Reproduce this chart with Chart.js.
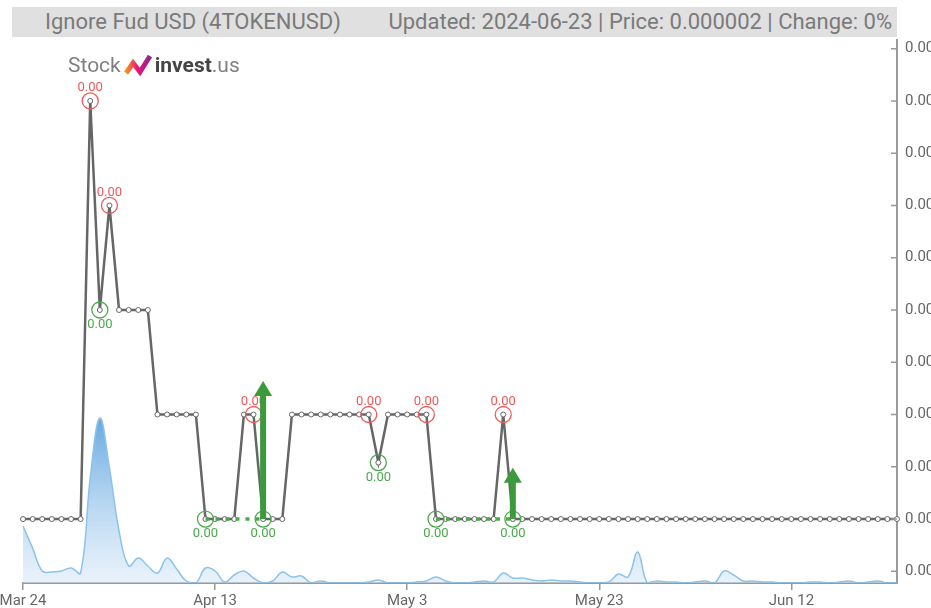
<!DOCTYPE html>
<html>
<head>
<meta charset="utf-8">
<script src="https://cdn.jsdelivr.net/npm/chart.js@4.4.0/dist/chart.umd.min.js"></script>
<style>
    body { margin: 0; width: 931px; height: 608px; overflow: hidden; background: #fff; font-family: Roboto, 'Liberation Sans', sans-serif; }
    #wrap { position: relative; width: 931px; height: 608px; }
    #chart { position: absolute; left: 0; top: 0; }
    .title-bar { position: absolute; left: 12px; top: 7px; width: 885px; height: 30px; background: #e0e0e0; color: #7a7a7a; font-size: 22px; line-height: 30px; white-space: nowrap; }
    .title-bar .name { position: absolute; left: 33px; }
    .title-bar .info { position: absolute; right: 5px; }
    .logo { position: absolute; left: 68px; top: 52px; font-size: 21px; line-height: 26px; white-space: nowrap; display: flex; align-items: center; }
    .logo .stock { color: #808080; }
    .logo .invest { color: #454545; font-weight: bold; }
    .logo .us { color: #808080; }
    .logo svg { margin: 0 3px 0 3px; }
</style>
</head>
<body>
<div id="wrap">
    <canvas id="chart" width="931" height="608"></canvas>
    <div class="title-bar">
        <span class="name">Ignore Fud USD (4TOKENUSD)</span>
        <span class="info">Updated: 2024-06-23 | Price: 0.000002 | Change: 0%</span>
    </div>
    <div class="logo">
        <span class="stock">Stock</span>
        <svg width="28" height="24" viewBox="0 0 28 24">
            <defs>
                <linearGradient id="lg" x1="0" y1="0" x2="1" y2="0">
                    <stop offset="0" stop-color="#f7941d"/>
                    <stop offset="0.5" stop-color="#e5157a"/>
                    <stop offset="1" stop-color="#8a2b8f"/>
                </linearGradient>
            </defs>
            <polyline points="2,20 9,10 16,19 26,3" fill="none" stroke="url(#lg)" stroke-width="5" stroke-linejoin="miter"/>
        </svg>
        <span class="invest">invest</span><span class="us">.us</span>
    </div>
</div>
<script>
// daily closes, Mar 24 .. Jun 23 2024 (USD)
const prices = [
    2e-6, 2e-6, 2e-6, 2e-6, 2e-6, 2e-6, 2e-6,
    6e-6, 4e-6, 5e-6,
    4e-6, 4e-6, 4e-6, 4e-6,
    3e-6, 3e-6, 3e-6, 3e-6, 3e-6,
    2e-6, 2e-6, 2e-6, 2e-6,
    3e-6, 3e-6,
    2e-6, 2e-6, 2e-6,
    3e-6, 3e-6, 3e-6, 3e-6, 3e-6, 3e-6, 3e-6, 3e-6, 3e-6,
    2.54e-6,
    3e-6, 3e-6, 3e-6, 3e-6, 3e-6,
    2e-6, 2e-6, 2e-6, 2e-6, 2e-6, 2e-6, 2e-6,
    3e-6,
    2e-6, 2e-6, 2e-6, 2e-6, 2e-6, 2e-6, 2e-6, 2e-6, 2e-6, 2e-6,
    2e-6, 2e-6, 2e-6, 2e-6, 2e-6, 2e-6, 2e-6, 2e-6, 2e-6, 2e-6,
    2e-6, 2e-6, 2e-6, 2e-6, 2e-6, 2e-6, 2e-6, 2e-6, 2e-6, 2e-6,
    2e-6, 2e-6, 2e-6, 2e-6, 2e-6, 2e-6, 2e-6, 2e-6, 2e-6, 2e-6,
    2e-6
];

const volumes = [
    57, 35, 12, 11, 12, 15, 10, 105, 165, 115,
    52, 17, 25, 17, 10, 25, 14, 2, 0, 15,
    12, 1, 8, 12, 5, 0, 2, 11, 6, 7,
    0, 2, 0, 0, 0, 0, 1, 3, 0, 0,
    0, 1, 2, 6, 2, 0, 0, 1, 2, 1,
    10, 5, 5, 3, 2, 3, 2, 2, 1, 0,
    0, 1, 9, 6, 31, 0, 2, 1, 1, 0,
    1, 2, 0, 12, 8, 2, 2, 1, 1, 0,
    0, 0, 1, 1, 0, 1, 2, 0, 1, 2,
    0, 0
];

const sellIdx = [7, 9, 24, 36, 42, 50];
const buyIdx = [8, 19, 25, 37, 43, 51];
const dashRuns = [[19, 25], [43, 51]];
const arrowIdx = [25, 51];
const arrowTop = [3.32e-6, 2.49e-6];

const priceTicks = [1.5e-6, 2e-6, 2.5e-6, 3e-6, 3.5e-6, 4e-6, 4.5e-6, 5e-6, 5.5e-6, 6e-6, 6.5e-6];
const xTickLabels = ['Mar 24', 'Apr 13', 'May 3', 'May 23', 'Jun 12'];

const months = ['Jan', 'Feb', 'Mar', 'Apr', 'May', 'Jun', 'Jul', 'Aug', 'Sep', 'Oct', 'Nov', 'Dec'];
const labels = prices.map((p, i) => {
    const d = new Date(2024, 2, 24 + i);
    return months[d.getMonth()] + ' ' + d.getDate();
});

const RED = 'rgb(238, 90, 90)';
const GREEN = 'rgb(76, 168, 76)';
const ARROW = '#3c9a3c';

const sellData = prices.map((p, i) => sellIdx.includes(i) ? p : null);
const buyData = prices.map((p, i) => buyIdx.includes(i) ? p : null);
const dashData = prices.map((p, i) => {
    const run = dashRuns.find(r => i >= r[0] && i <= r[1]);
    return run ? prices[run[0]] : null;
});

const signalPlugin = {
    id: 'signals',
    afterDatasetsDraw(chart) {
        const ctx = chart.ctx;
        const x = chart.scales.x;
        const y = chart.scales.y;

        ctx.save();
        ctx.font = '13px Roboto, sans-serif';
        ctx.textAlign = 'center';
        ctx.textBaseline = 'middle';
        ctx.fillStyle = RED;
        sellIdx.forEach(i => {
            ctx.fillText(prices[i].toFixed(2), x.getPixelForValue(i), y.getPixelForValue(prices[i]) - 13);
        });
        ctx.fillStyle = GREEN;
        buyIdx.forEach(i => {
            ctx.fillText(prices[i].toFixed(2), x.getPixelForValue(i), y.getPixelForValue(prices[i]) + 15);
        });

        // buy arrows
        ctx.fillStyle = ARROW;
        arrowIdx.forEach((i, k) => {
            const px = x.getPixelForValue(i);
            const base = y.getPixelForValue(prices[i]);
            const top = y.getPixelForValue(arrowTop[k]);
            ctx.fillRect(px - 3, top + 14, 6, base - top - 14);
            ctx.beginPath();
            ctx.moveTo(px, top);
            ctx.lineTo(px + 9, top + 15);
            ctx.lineTo(px - 9, top + 15);
            ctx.closePath();
            ctx.fill();
        });

        // inward tick marks on the price axis
        ctx.strokeStyle = '#999';
        ctx.lineWidth = 1.5;
        ctx.beginPath();
        y.ticks.forEach((t, k) => {
            const py = y.getPixelForTick(k);
            ctx.moveTo(y.left - 6, py);
            ctx.lineTo(y.left, py);
        });
        ctx.stroke();
        ctx.restore();
    }
};

const ctx = document.getElementById('chart').getContext('2d');

new Chart(ctx, {
    type: 'line',
    data: {
        labels: labels,
        datasets: [
            {
                data: sellData,
                showLine: false,
                pointRadius: 8,
                pointBorderWidth: 1.3,
                pointBorderColor: RED,
                pointBackgroundColor: 'rgba(0,0,0,0)',
                yAxisID: 'y',
                order: 1
            },
            {
                data: buyData,
                showLine: false,
                pointRadius: 8,
                pointBorderWidth: 1.3,
                pointBorderColor: GREEN,
                pointBackgroundColor: 'rgba(0,0,0,0)',
                yAxisID: 'y',
                order: 1
            },
            {
                data: dashData,
                borderColor: GREEN,
                borderWidth: 3.5,
                borderDash: [4, 6],
                pointRadius: 0,
                spanGaps: false,
                yAxisID: 'y',
                order: 2
            },
            {
                data: prices,
                borderColor: '#666',
                borderWidth: 2.5,
                tension: 0,
                pointRadius: 2.5,
                pointBorderWidth: 1,
                pointBorderColor: '#666',
                pointBackgroundColor: '#fff',
                yAxisID: 'y',
                order: 3
            },
            {
                data: volumes,
                yAxisID: 'yv',
                fill: 'origin',
                tension: 0.4,
                borderColor: 'rgb(140, 195, 235)',
                borderWidth: 1.5,
                pointRadius: 0,
                backgroundColor: function(context) {
                    const chart = context.chart;
                    const area = chart.chartArea;
                    if (!area) return 'rgba(120,180,230,0.4)';
                    const top = chart.scales.yv.getPixelForValue(Math.max(...volumes));
                    const g = chart.ctx.createLinearGradient(0, top, 0, area.bottom);
                    g.addColorStop(0, 'rgba(95, 165, 222, 0.95)');
                    g.addColorStop(1, 'rgba(215, 232, 248, 0.55)');
                    return g;
                },
                order: 10
            }
        ]
    },
    options: {
        responsive: false,
        animation: false,
        devicePixelRatio: 1,
        layout: { padding: { left: 23, top: 40, right: 0, bottom: 0 } },
        plugins: {
            legend: { display: false },
            title: { display: false },
            tooltip: { enabled: false }
        },
        scales: {
            x: {
                type: 'category',
                offset: false,
                afterBuildTicks: scale => {
                    scale.ticks = scale.ticks.filter(t => xTickLabels.includes(labels[t.value]));
                },
                afterFit: scale => {
                    scale.height = 25;
                    scale.paddingLeft = 0;
                    scale.paddingRight = 0;
                },
                grid: { drawOnChartArea: false, tickLength: 7, color: '#999', lineWidth: 1.5 },
                border: { color: '#999', width: 2 },
                ticks: { autoSkip: false, maxRotation: 0, color: '#666', font: { size: 15, family: 'Roboto' }, padding: 2 }
            },
            y: {
                type: 'linear',
                position: 'right',
                min: 1.388e-6,
                max: 6.583e-6,
                afterBuildTicks: scale => {
                    scale.ticks = priceTicks.map(v => ({ value: v }));
                },
                afterFit: scale => {
                    scale.width = 34;
                    scale.paddingTop = 0;
                    scale.paddingBottom = 0;
                },
                grid: { drawOnChartArea: false, drawTicks: false },
                border: { color: '#999', width: 2 },
                ticks: {
                    color: '#666',
                    font: { size: 15, family: 'Roboto' },
                    padding: 8,
                    callback: v => v.toFixed(2)
                }
            },
            yv: {
                type: 'linear',
                display: false,
                min: 0,
                max: 543
            }
        }
    },
    plugins: [signalPlugin]
});
</script>
</body>
</html>
